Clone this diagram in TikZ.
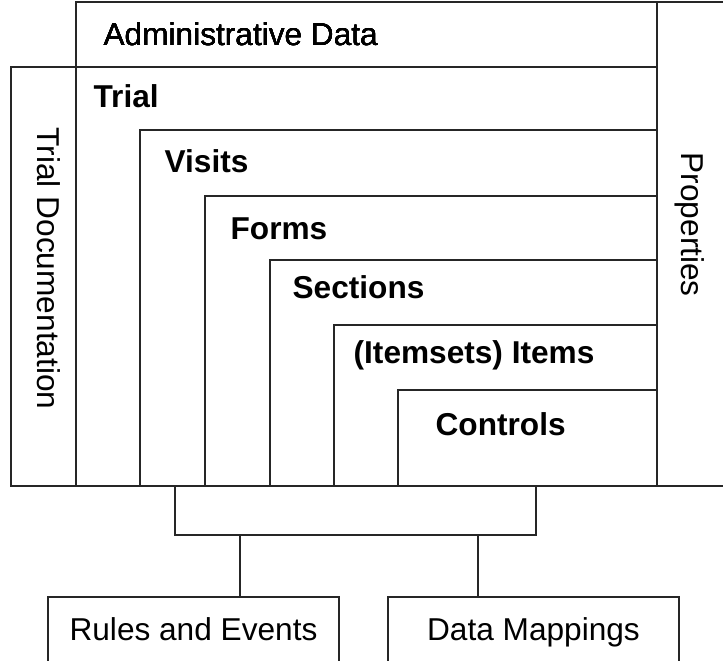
\documentclass[tikz,border=0pt]{standalone}
\usepackage{fontspec}
\setmainfont{Liberation Sans}
\def\LBox#1#2{\draw (#1,486) |- (657,#2);}
\tikzset{lbl/.style={anchor=base west,inner sep=0pt,font=\fontsize{18}{20}\selectfont},
  blbl/.style={lbl,font=\fontsize{18}{20}\selectfont\bfseries},
  sidebox/.style={draw,minimum width=5.82cm,minimum height=1.38cm,text height=0.34cm,
    text depth=0pt,inner sep=0pt,font=\fontsize{18}{20}\selectfont}}
\begin{document}
\begin{tikzpicture}[x=0.02cm,y=-0.02cm,line width=0.026cm,draw=black!85]
\useasboundingbox (0,0) rectangle (723,660);
\clip (0,0) rectangle (723,660);
  \draw (76,2) rectangle (657,67);
  \draw (11,67) rectangle (76,486);
  \draw (657,2) rectangle (740,486);
  \draw (76,67) rectangle (657,486);
\foreach \x/\y in {140/130,205/196,270/260,334/325,398/390} \LBox\x\y
\node[lbl] (admin) at (103,45) {Administrative Data};
\node[lbl,rotate=-90] (trialdoc) at (37,127) {Trial Documentation};
\node[lbl,rotate=-90] (props) at (681,152) {Properties};
\node[blbl] (trial) at (93,107) {Trial};
\node[blbl] (visits) at (164,172) {Visits};
\node[blbl] (forms) at (230,239) {Forms};
\node[blbl] (sections) at (292,298) {Sections};
\node[blbl] (items) at (353,363) {(Itemsets) Items};
\node[blbl] (controls) at (435,435) {Controls};
% bracket below
  \draw (175,486) |- (536,535) -- (536,486);
\coordinate (jr) at (240,535);
\coordinate (jm) at (478,535);
\node[sidebox] (rules) at (193.5,631.5) {Rules and Events};
\node[sidebox] (mappings) at (533.5,631.5) {Data Mappings};
  \draw (jr) -- (jr |- rules.north);
  \draw (jm) -- (jm |- mappings.north);
\end{tikzpicture}
\end{document}
